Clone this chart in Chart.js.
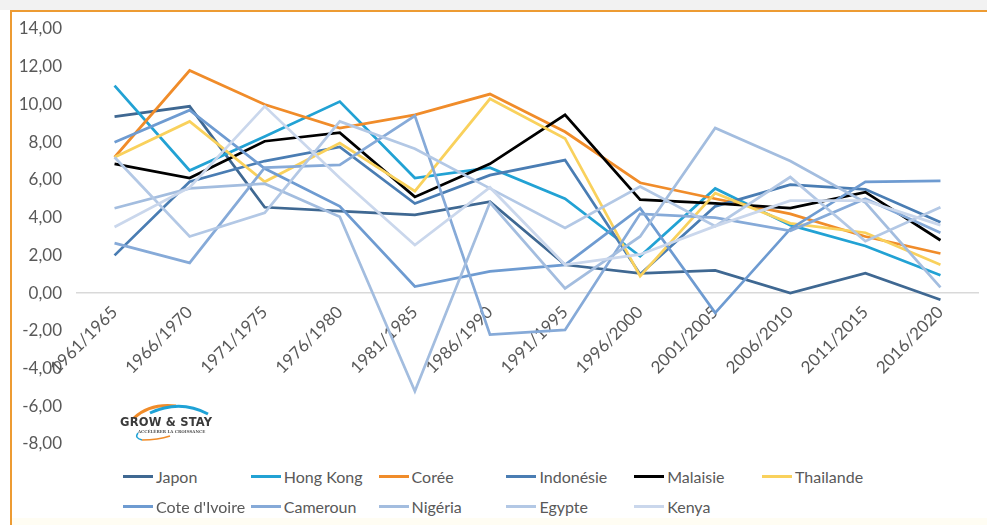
<!DOCTYPE html>
<html>
<head>
<meta charset="utf-8">
<script src="https://cdn.jsdelivr.net/npm/chart.js@4.4.1/dist/chart.umd.min.js"></script>
<style>
    html, body { margin: 0; padding: 0; background: #fff; }
    body { width: 987px; height: 525px; position: relative; overflow: hidden; font-family: Lato, 'Open Sans', sans-serif; }
    #topbar { position: absolute; left: 0; top: 0; width: 987px; height: 10px; background: #f2f2f2; }
    #frame { position: absolute; left: 10px; top: 10px; width: 977px; height: 515px; border-top: 2px solid #ED9B33; border-left: 2px solid #ED9B33; }
    #bottomband { position: absolute; left: 12px; top: 518px; width: 975px; height: 7px; background: #fffdf3; }
    #wrap { position: absolute; left: 12px; top: 12px; width: 975px; height: 450px; }
    #logo { position: absolute; left: 118px; top: 400px; width: 100px; height: 42px; }
    #logo .name { position: absolute; left: 2px; top: 15px; font: bold 11.5px 'DejaVu Sans', sans-serif; color: #3b3b3b; letter-spacing: 0.2px; white-space: nowrap; }
    #logo .sub { position: absolute; left: 20px; top: 29px; font: bold 4px 'DejaVu Serif', serif; color: #555; white-space: nowrap; }
    #legend { position: absolute; left: 0; top: 462px; width: 987px; height: 56px; }
    .item { position: absolute; height: 20px; display: flex; align-items: center; font-size: 16px; color: #595959; white-space: nowrap; }
    .item .mark { width: 30px; height: 3px; margin-right: 3px; }
</style>
</head>
<body>
<div id="topbar"></div>
<div id="frame"></div>
<div id="bottomband"></div>
<div id="wrap"><canvas id="line-chart"></canvas></div>
<div id="logo">
    <svg width="100" height="42" style="position:absolute;left:0;top:0">
        <path d="M16 18 Q32 3 58 6" stroke="#F08C2A" stroke-width="3" fill="none"/>
        <path d="M32 13 Q62 -1 90 14" stroke="#1FA2D6" stroke-width="3" fill="none"/>
        <path d="M20 33 Q16 38 24 40" stroke="#1FA2D6" stroke-width="1.5" fill="none"/>
        <path d="M24 40 Q40 40 52 36" stroke="#F08C2A" stroke-width="1.5" fill="none"/>
    </svg>
    <span class="name">GROW &amp; STAY</span>
    <span class="sub">ACCÉLÉRER LA CROISSANCE</span>
</div>
<div id="legend"></div>
<script>
const periods = ['1961/1965', '1966/1970', '1971/1975', '1976/1980', '1981/1985', '1986/1990',
    '1991/1995', '1996/2000', '2001/2005', '2006/2010', '2011/2015', '2016/2020'];

const japon = [9.35, 9.9, 4.55, 4.35, 4.15, 4.85, 1.5, 1.05, 1.2, 0.0, 1.05, -0.35];
const hongKong = [11.0, 6.5, 8.3, 10.15, 6.1, 6.65, 5.0, 1.95, 5.55, 3.6, 2.5, 0.95];
const coree = [7.2, 11.8, 10.0, 8.75, 9.45, 10.55, 8.55, 5.85, 5.0, 4.2, 3.0, 2.1];
const indonesie = [2.0, 5.9, 7.0, 7.75, 4.75, 6.25, 7.05, 1.0, 4.6, 5.75, 5.5, 3.75];
const malaisie = [6.85, 6.1, 8.05, 8.5, 5.1, 6.85, 9.45, 4.95, 4.75, 4.5, 5.35, 2.8];
const thailande = [7.2, 9.1, 5.9, 7.95, 5.4, 10.3, 8.2, 0.9, 5.3, 3.7, 3.2, 1.5];
const coteIvoire = [8.0, 9.7, 6.6, 4.6, 0.35, 1.15, 1.5, 4.5, -1.05, 3.4, 5.9, 5.95];
const cameroun = [2.65, 1.6, 6.65, 6.8, 9.4, -2.2, -1.95, 4.2, 4.0, 3.3, 5.0, 3.2];
const nigeria = [4.5, 5.55, 5.8, 4.05, -5.2, 4.8, 0.25, 3.0, 8.75, 7.0, 4.8, 0.3];
const egypte = [7.2, 3.0, 4.25, 9.1, 7.65, 5.55, 3.45, 5.65, 3.55, 6.15, 2.75, 4.55];
const kenya = [3.5, 5.6, 9.9, 6.1, 2.55, 5.6, 1.5, 2.05, 3.55, 4.9, 4.9, 3.6];

const yTicks = [-8, -6, -4, -2, 0, 2, 4, 6, 8, 10, 12, 14];

const series = [
    { label: 'Japon', data: japon, color: '#3F6892' },
    { label: 'Hong Kong', data: hongKong, color: '#22A2D4' },
    { label: 'Corée', data: coree, color: '#F08C2A' },
    { label: 'Indonésie', data: indonesie, color: '#4A7DB3' },
    { label: 'Malaisie', data: malaisie, color: '#000000' },
    { label: 'Thailande', data: thailande, color: '#F9D15C' },
    { label: "Cote d'Ivoire", data: coteIvoire, color: '#6E9BD1' },
    { label: 'Cameroun', data: cameroun, color: '#86AAD8' },
    { label: 'Nigéria', data: nigeria, color: '#A3BDDF' },
    { label: 'Egypte', data: egypte, color: '#B3C8E5' },
    { label: 'Kenya', data: kenya, color: '#CAD7EC' }
];

const textColor = '#595959';
const tickFont = { family: 'Lato', size: 17 };

const datasets = series.map(function (s, i) {
    return {
        label: s.label,
        data: s.data,
        borderColor: s.color,
        backgroundColor: s.color,
        borderWidth: 2.75,
        pointRadius: 0,
        tension: 0,
        fill: false,
        order: series.length - i
    };
});

const ctx = document.getElementById('line-chart').getContext('2d');
const chart = new Chart(ctx, {
    type: 'line',
    data: {
        labels: periods,
        datasets: datasets
    },
    options: {
        responsive: true,
        maintainAspectRatio: false,
        animation: false,
        layout: {
            padding: { top: 17, right: 9, bottom: 18, left: 0 }
        },
        scales: {
            x: {
                type: 'category',
                position: { y: 0 },
                offset: true,
                grid: { display: false, drawTicks: false },
                border: { display: true, color: '#D9D9D9', width: 1.5 },
                ticks: {
                    autoSkip: false,
                    minRotation: 45,
                    maxRotation: 45,
                    padding: 9,
                    color: textColor,
                    font: tickFont
                }
            },
            y: {
                min: yTicks[0],
                max: yTicks[yTicks.length - 1],
                afterBuildTicks: function (scale) {
                    scale.ticks = yTicks.map(v => ({ value: v }));
                },
                afterFit: function (scale) {
                    scale.width = 65;
                },
                // tick marks are hidden, their length only pushes the labels left
                grid: { display: false, drawTicks: true, tickLength: 13 },
                border: { display: false },
                ticks: {
                    padding: 2,
                    color: textColor,
                    font: tickFont,
                    callback: function (v) {
                        return Number(v).toFixed(2).replace('.', ',');
                    }
                }
            }
        },
        plugins: {
            legend: { display: false },
            title: { display: false },
            tooltip: { enabled: false }
        }
    }
});

// legend in fixed columns, like the Excel one
const legend = document.getElementById('legend');
chart.data.datasets.forEach(function (ds, i) {
    const row = i < 6 ? 0 : 1;
    const col = row === 0 ? i : i - 6;
    const item = document.createElement('div');
    item.className = 'item';
    item.style.left = (123 + col * 127.8) + 'px';
    item.style.top = (row === 0 ? 4 : 34) + 'px';
    item.innerHTML = '<span class="mark" style="background:' + ds.borderColor + '"></span>' + ds.label;
    legend.appendChild(item);
});
</script>
</body>
</html>
